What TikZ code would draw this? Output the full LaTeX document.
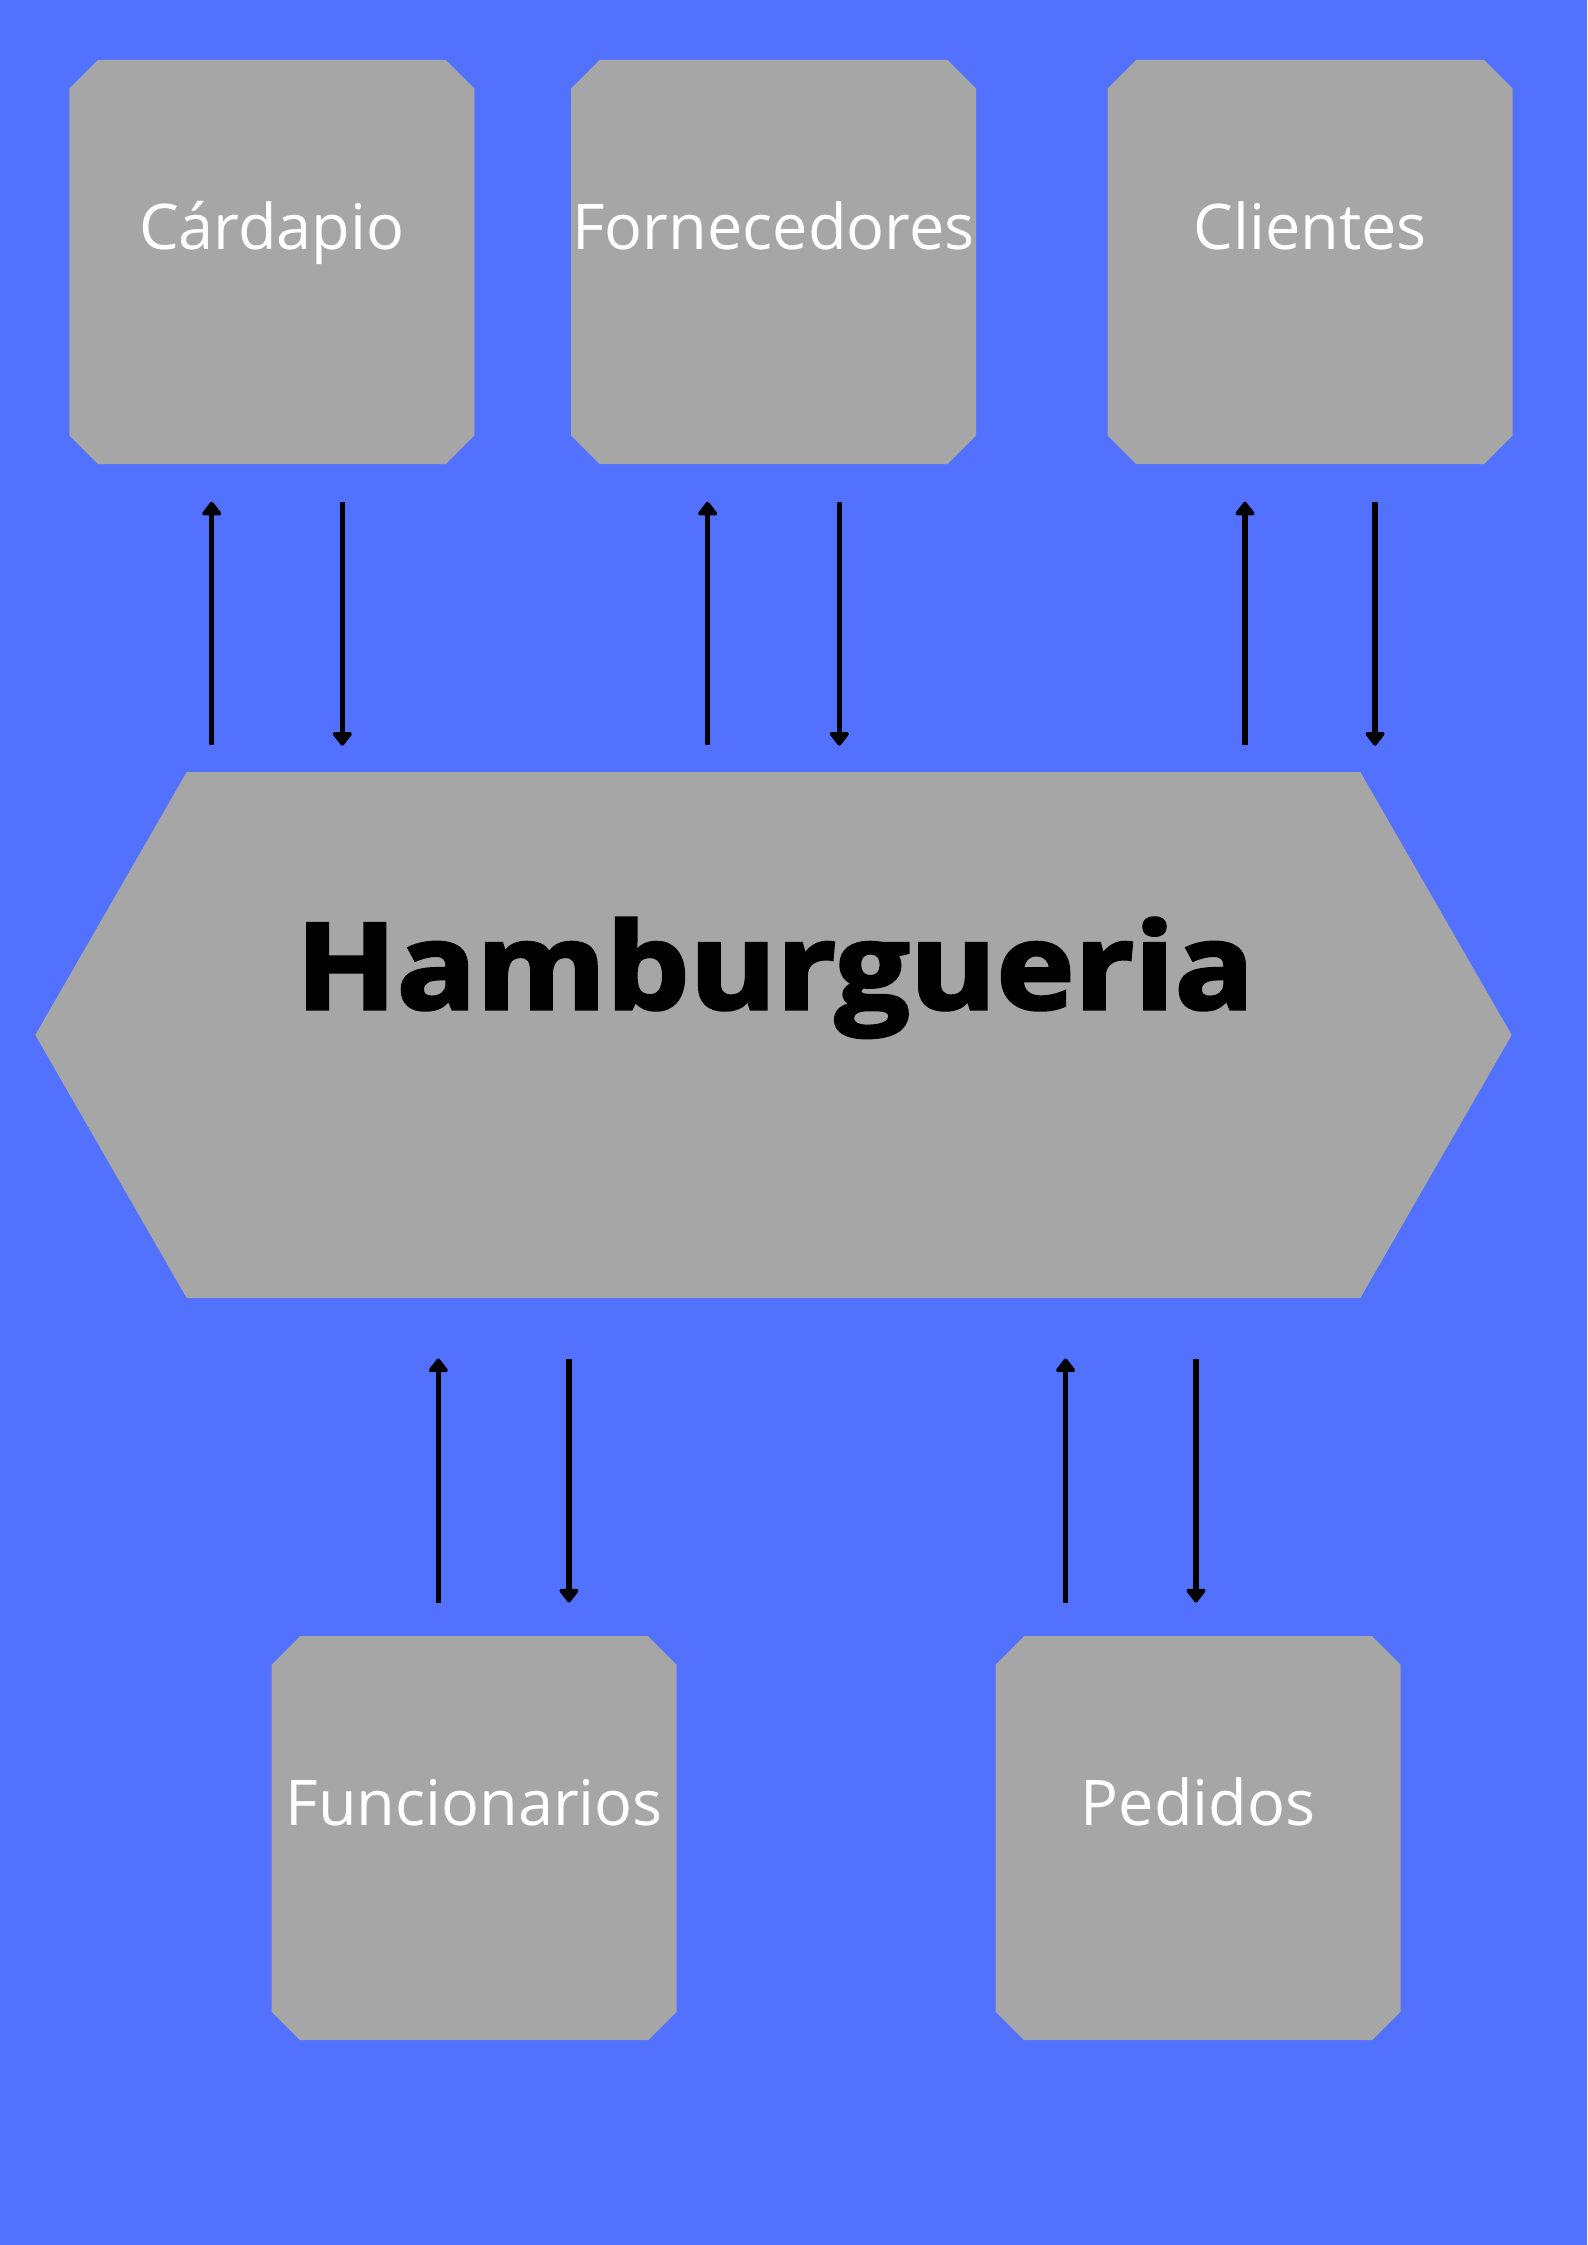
\documentclass[tikz,border=0pt]{standalone}
\usepackage{fontspec}
\setmainfont{Open Sans}
\newfontfamily\hubfont[FakeStretch=1.1,BoldFeatures={FakeBold=2.6}]{Open Sans}
\usetikzlibrary{arrows.meta,calc}
\definecolor{bgblue}{HTML}{5271FF}
\definecolor{boxgray}{HTML}{A6A6A6}
\newcommand\chamfill[1]{%
  \fill[boxgray] ($(#1.north west)+(28.5,0)$) -- ($(#1.north east)+(-28.5,0)$)
    -- ($(#1.north east)+(0,28.5)$) -- ($(#1.south east)+(0,-28.5)$)
    -- ($(#1.south east)+(-28.5,0)$) -- ($(#1.south west)+(28.5,0)$)
    -- ($(#1.south west)+(0,-28.5)$) -- ($(#1.north west)+(0,28.5)$) -- cycle;}
\begin{document}
\begin{tikzpicture}[x=1pt,y=-1pt,
  ent/.style={rectangle, draw=none, minimum width=405pt, minimum height=404pt, inner sep=0pt, outer sep=0pt},
  lbl/.style={text=white, font=\fontsize{63}{76}\selectfont, anchor=base, inner sep=0pt},
  flow/.style={draw=black, line width=5.4pt, -{Triangle[width=22pt,length=15pt,round]}}]
\fill[bgblue] (0,0) rectangle (1587,2245);
\useasboundingbox (0,0) rectangle (1587,2245);
% entity boxes
\node[ent] (card) at (271.8,262) {};
\node[ent] (forn) at (773.5,262) {};
\node[ent] (cli)  at (1310.2,262) {};
\node[ent] (func) at (474.2,1838.2) {};
\node[ent] (ped)  at (1198.2,1838.2) {};
\chamfill{card}\chamfill{forn}\chamfill{cli}\chamfill{func}\chamfill{ped}
\node[lbl] (cardT) at (271.8,249) {Cárdapio};
\node[lbl] (fornT) at (773.5,249) {Fornecedores};
\node[lbl] (cliT)  at (1310.2,249) {Clientes};
\node[lbl] (funcT) at (474.2,1825) {Funcionarios};
\node[lbl] (pedT)  at (1198.2,1825) {Pedidos};
% central hexagon
\node[draw=none, minimum width=1476.4pt, minimum height=526pt, inner sep=0pt, outer sep=0pt] (hub) at (773.5,1035) {};
\fill[boxgray] (hub.west) -- ($(hub.north west)+(151.4,0)$) -- ($(hub.north east)+(-151.4,0)$)
  -- (hub.east) -- ($(hub.south east)+(-151.4,0)$) -- ($(hub.south west)+(151.4,0)$) -- cycle;
\node[anchor=base, inner sep=0pt, font=\fontsize{120}{144}\hubfont\bfseries] (hubT) at (775,1009) {Hamburgueria};
% connectors top
\draw[flow] ($(card.south)+(-60.1,281)$) -- ($(card.south)+(-60.1,37.7)$);
\draw[flow] ($(card.south)+(70.5,37.7)$) -- ($(card.south)+(70.5,281.7)$);
\draw[flow] ($(forn.south)+(-65.9,281)$) -- ($(forn.south)+(-65.9,37.7)$);
\draw[flow] ($(forn.south)+(65.8,37.7)$) -- ($(forn.south)+(65.8,281.7)$);
\draw[flow] ($(cli.south)+(-65.2,281)$) -- ($(cli.south)+(-65.2,37.7)$);
\draw[flow] ($(cli.south)+(64.8,37.7)$) -- ($(cli.south)+(64.8,281.7)$);
% connectors bottom
\draw[flow] ($(func.north)+(-35.9,-33.7)$) -- ($(func.north)+(-35.9,-277.7)$);
\draw[flow] ($(func.north)+(94.8,-277)$) -- ($(func.north)+(94.8,-33.7)$);
\draw[flow] ($(ped.north)+(-132.6,-33.7)$) -- ($(ped.north)+(-132.6,-277.7)$);
\draw[flow] ($(ped.north)+(-2.2,-277)$) -- ($(ped.north)+(-2.2,-33.7)$);
\end{tikzpicture}
\end{document}
